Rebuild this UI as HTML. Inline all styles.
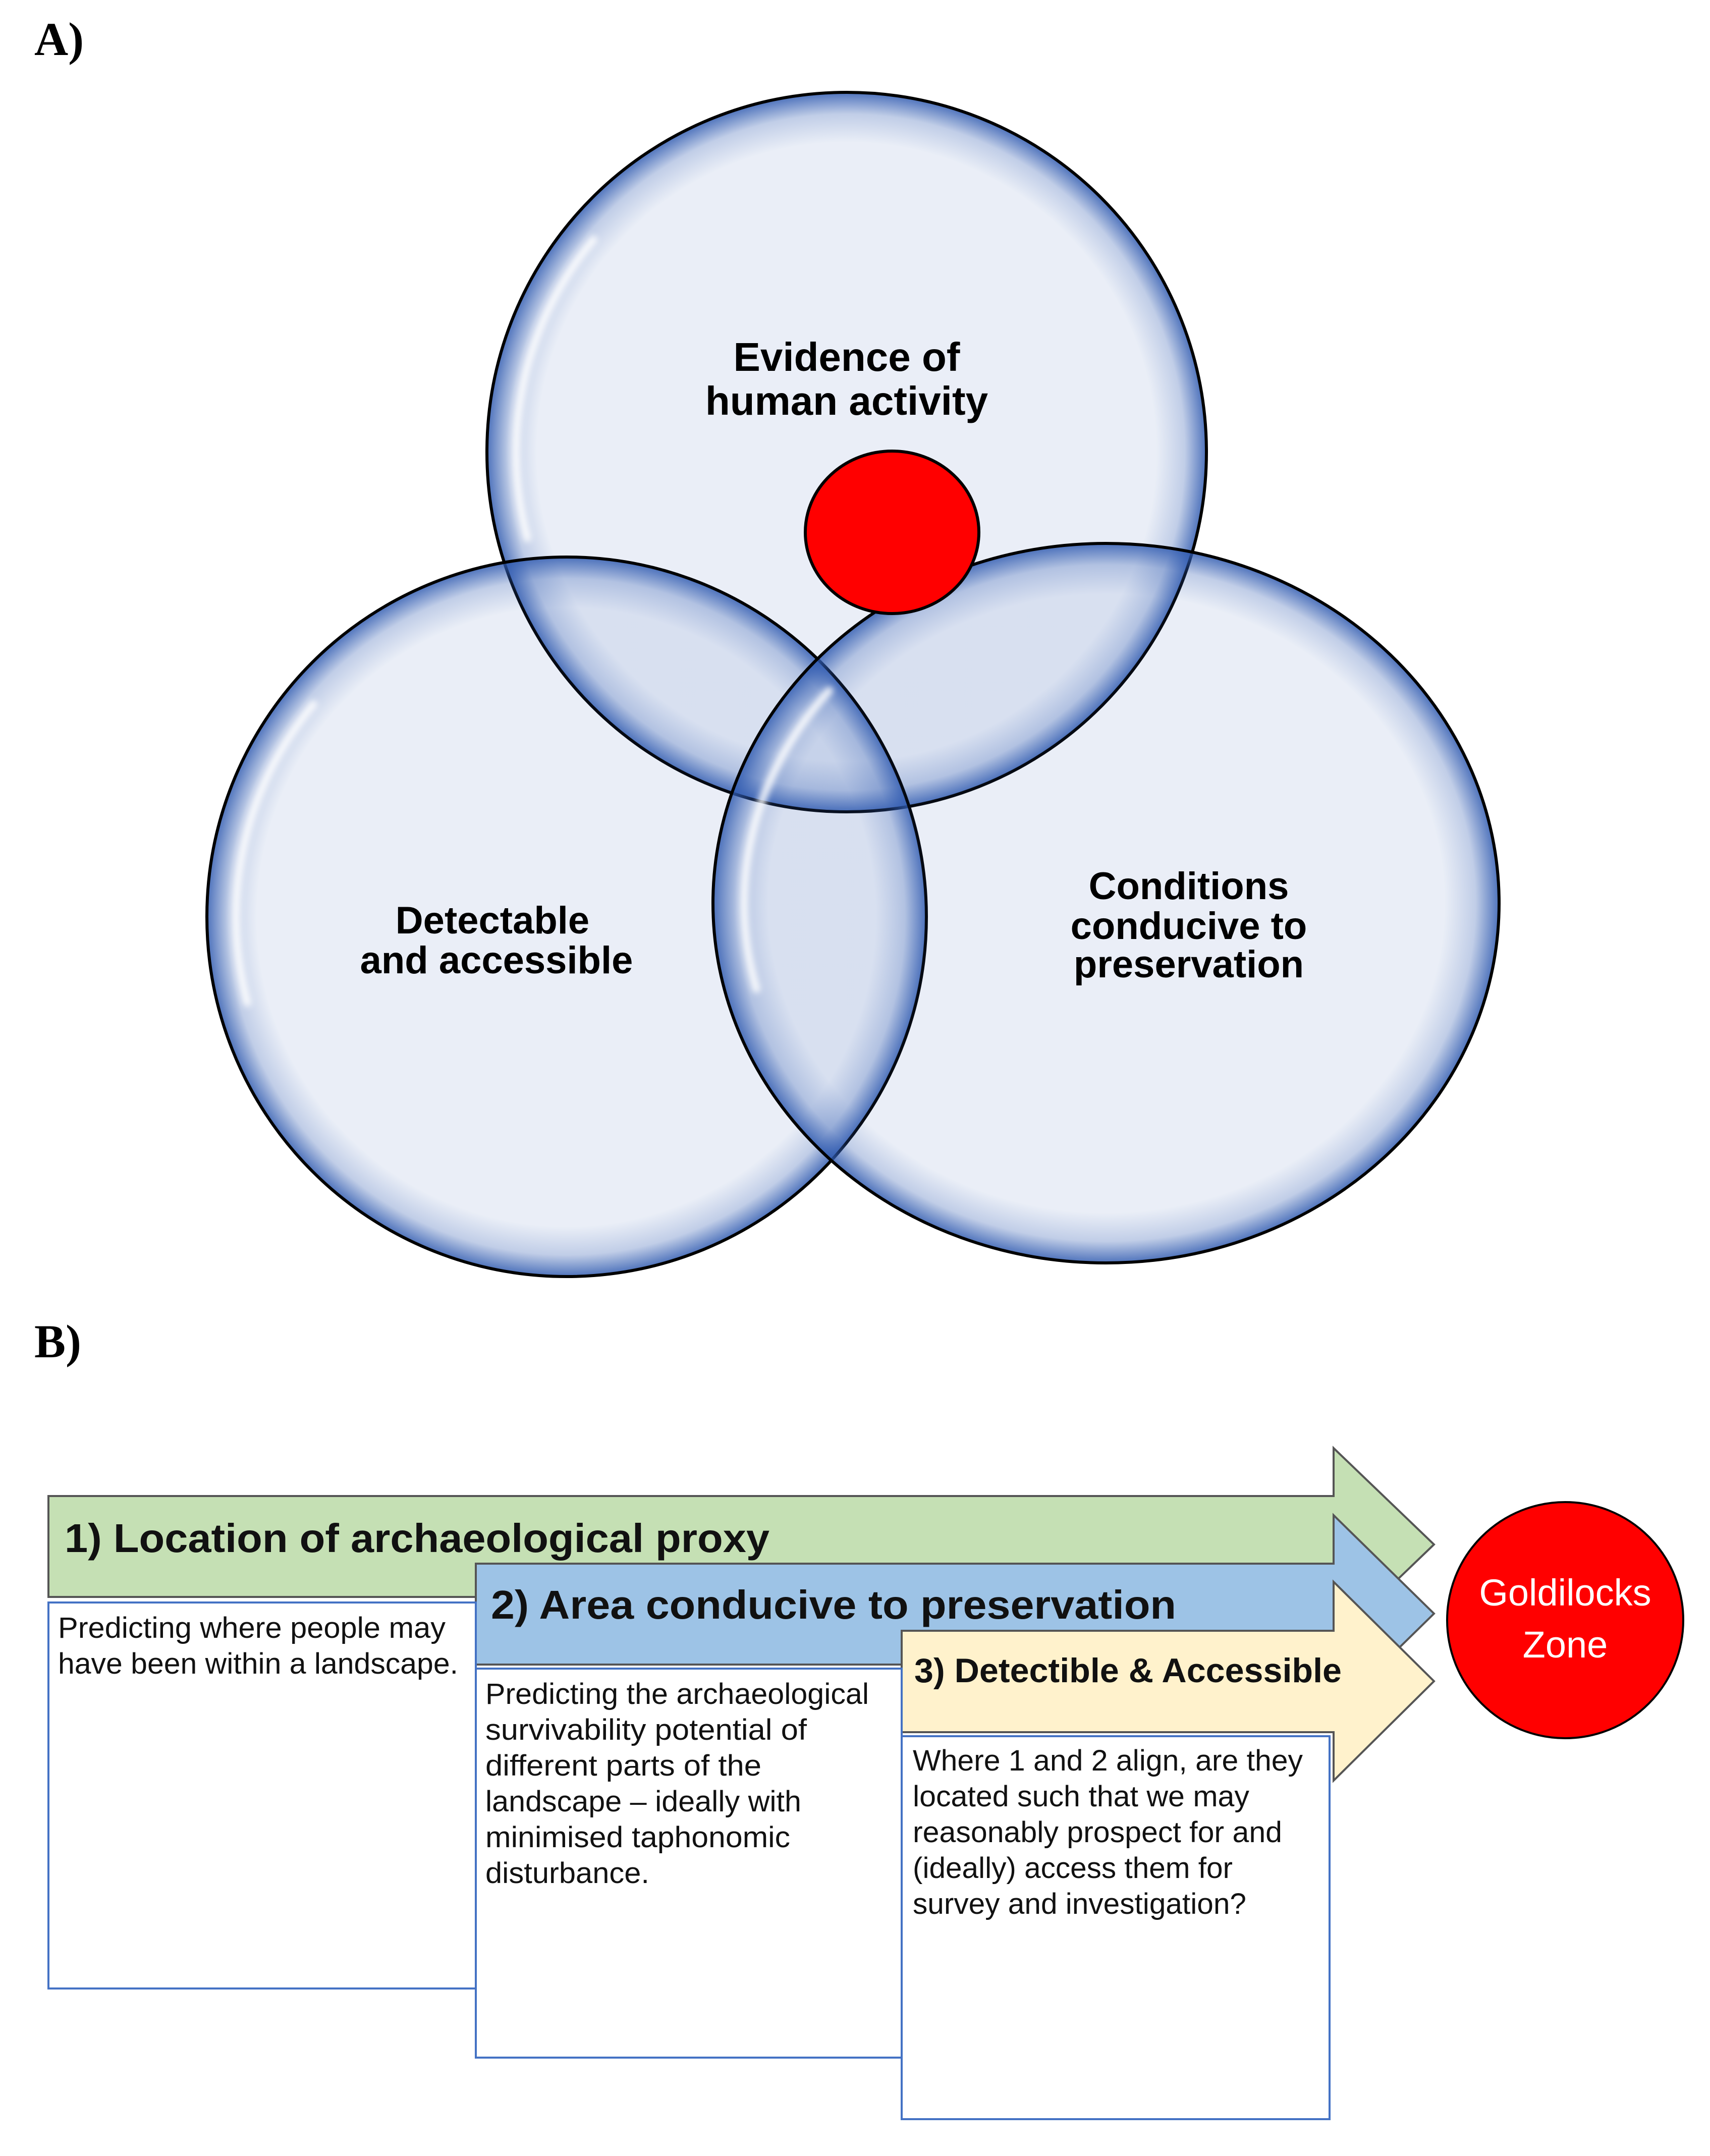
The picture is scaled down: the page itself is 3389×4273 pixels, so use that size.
<!DOCTYPE html>
<html><head><meta charset="utf-8"><style>html,body{margin:0;padding:0;background:#fff}svg{display:block}</style></head>
<body>
<svg width="3389" height="4273" viewBox="0 0 3389 4273" xmlns="http://www.w3.org/2000/svg">
<defs>
<radialGradient id="g" cx="50%" cy="50%" r="50%">
<stop offset="0" stop-color="#2f5ab0" stop-opacity="0.1"/>
<stop offset="0.86" stop-color="#2f5ab0" stop-opacity="0.1"/>
<stop offset="0.94" stop-color="#2f5ab0" stop-opacity="0.3"/>
<stop offset="1" stop-color="#2f5ab0" stop-opacity="0.85"/>
</radialGradient>
<filter id="b"><feGaussianBlur stdDeviation="6"/></filter>
</defs>
<text x="68" y="109" font-family="Liberation Serif" font-weight="bold" font-size="93">A)</text>
<text x="68" y="2690" font-family="Liberation Serif" font-weight="bold" font-size="93">B)</text>

<g stroke="#000" stroke-width="6" fill="url(#g)">
<circle cx="1678" cy="896" r="713"/>
<circle cx="1123" cy="1817" r="713"/>
<ellipse cx="2192" cy="1790" rx="779" ry="713"/>
</g>
<g fill="none" stroke="#fff" stroke-width="16" opacity="0.85" stroke-linecap="round" filter="url(#b)">
<path d="M1176 475 A655 655 0 0 0 1045 1066"/>
<path d="M621 1396 A655 655 0 0 0 490 1987"/>
<path d="M1643 1369 A717 655 0 0 0 1499 1960"/>
</g>
<ellipse cx="1768" cy="1055" rx="172" ry="161" fill="#ff0000" stroke="#000" stroke-width="6"/>
<g font-family="Liberation Sans" font-weight="bold" text-anchor="middle" fill="#000">
<text x="1678" y="735" font-size="80">Evidence of</text>
<text x="1678" y="822" font-size="80">human activity</text>
<text x="976" y="1850" font-size="76">Detectable</text>
<text x="984" y="1929" font-size="76">and accessible</text>
<text x="2356" y="1782" font-size="76">Conditions</text>
<text x="2356" y="1861" font-size="76">conducive to</text>
<text x="2356" y="1937" font-size="76">preservation</text>
</g>

<g stroke="#555" stroke-width="4">
<polygon points="96,2965 2643,2965 2643,2870 2842,3061 2643,3252 2643,3165 96,3165" fill="#c5e0b4"/>
<polygon points="943,3099 2643,3099 2643,3003 2842,3198 2643,3393 2643,3299 943,3299" fill="#9dc3e6"/>
<polygon points="1787,3232 2643,3232 2643,3135 2842,3332 2643,3529 2643,3433 1787,3433" fill="#fff2cc"/>
</g>
<g fill="#fff" stroke="#4472c4" stroke-width="4">
<rect x="96" y="3176" width="847" height="765"/>
<rect x="943" y="3307" width="844" height="771"/>
<rect x="1787" y="3441" width="848" height="759"/>
</g>
<g font-family="Liberation Sans" font-weight="bold" fill="#111">
<text x="128" y="3076" font-size="80" textLength="1397" lengthAdjust="spacingAndGlyphs">1) Location of archaeological proxy</text>
<text x="973" y="3208" font-size="80" textLength="1358" lengthAdjust="spacingAndGlyphs">2) Area conducive to preservation</text>
<text x="1812" y="3334" font-size="68" textLength="847" lengthAdjust="spacingAndGlyphs">3) Detectible &amp; Accessible</text>
</g>
<g font-family="Liberation Sans" font-size="58" fill="#111">
<text x="115" y="3246" textLength="768" lengthAdjust="spacingAndGlyphs">Predicting where people may</text>
<text x="115" y="3317" textLength="793" lengthAdjust="spacingAndGlyphs">have been within a landscape.</text>
<text x="962" y="3377" textLength="760" lengthAdjust="spacingAndGlyphs">Predicting the archaeological</text>
<text x="962" y="3448" textLength="637" lengthAdjust="spacingAndGlyphs">survivability potential of</text>
<text x="962" y="3519" textLength="547" lengthAdjust="spacingAndGlyphs">different parts of the</text>
<text x="962" y="3590" textLength="626" lengthAdjust="spacingAndGlyphs">landscape – ideally with</text>
<text x="962" y="3661" textLength="604" lengthAdjust="spacingAndGlyphs">minimised taphonomic</text>
<text x="962" y="3732" textLength="325" lengthAdjust="spacingAndGlyphs">disturbance.</text>
<text x="1809" y="3509" textLength="773" lengthAdjust="spacingAndGlyphs">Where 1 and 2 align, are they</text>
<text x="1809" y="3580" textLength="667" lengthAdjust="spacingAndGlyphs">located such that we may</text>
<text x="1809" y="3651" textLength="732" lengthAdjust="spacingAndGlyphs">reasonably prospect for and</text>
<text x="1809" y="3722" textLength="634" lengthAdjust="spacingAndGlyphs">(ideally) access them for</text>
<text x="1809" y="3793" textLength="661" lengthAdjust="spacingAndGlyphs">survey and investigation?</text>
</g>
<circle cx="3102" cy="3211" r="234" fill="#ff0000" stroke="#000" stroke-width="4"/>
<g font-family="Liberation Sans" font-size="74" fill="#fff" text-anchor="middle">
<text x="3102" y="3182">Goldilocks</text>
<text x="3102" y="3285">Zone</text>
</g>
</svg>
</body></html>
